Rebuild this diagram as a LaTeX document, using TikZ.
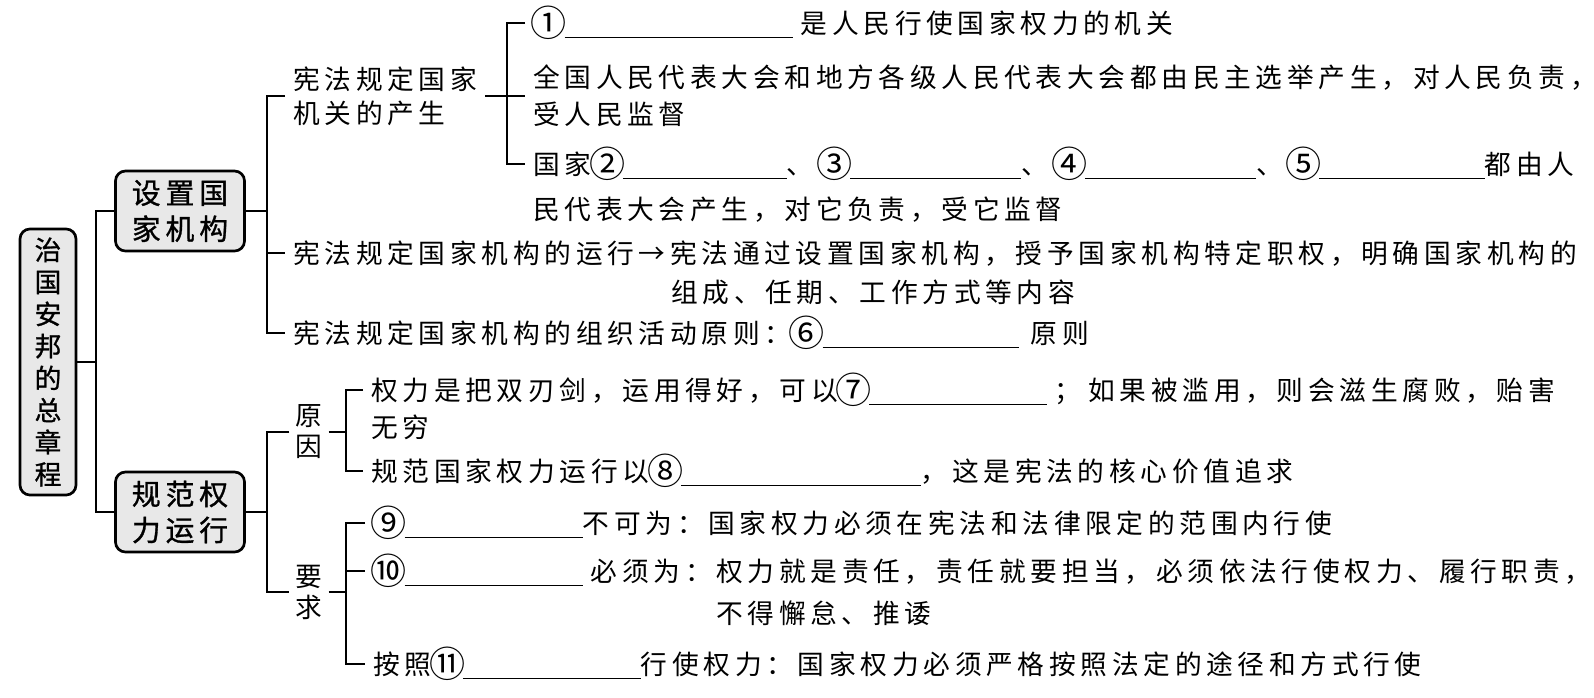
\documentclass[tikz,border=0pt]{standalone}
\usepackage{fontspec}
\newfontfamily\cjk{Noto Sans CJK SC}[LetterSpace=17.6]
\newfontfamily\boxfont{Noto Sans CJK SC}[LetterSpace=17,FakeBold=1]
\newcommand\blank[1]{\rule[-0.2em]{#1}{0.9pt}}
\newcommand\cnum[1]{\makebox[1.176em]{\raisebox{-0.12em}{\scalebox{1.35}{#1}}}}

\begin{document}
\begin{tikzpicture}[x=0.025cm,y=-0.025cm,
  every node/.style={font=\cjk\fontsize{19pt}{24pt}\selectfont},
  link/.style={line width=1.4pt},
  topic/.style={draw,line width=1.9pt,rounded corners=0.25cm,fill=gray!18,align=center,inner sep=0pt,font=\boxfont\fontsize{20.5pt}{25.6pt}\selectfont},
  item/.style={anchor=west,inner xsep=0.2cm,inner ysep=0pt,text height=16.7pt,text depth=2.3pt},
  lines/.style={anchor=west,inner xsep=0.2cm,inner ysep=0pt,align=left},
  pair/.style={align=center,inner xsep=0.15cm,inner ysep=0pt,font=\cjk\fontsize{19pt}{22pt}\selectfont}]
\useasboundingbox (0,0) rectangle (1594,698);

\node[topic,minimum width=1.4cm,minimum height=6.65cm,font=\boxfont\fontsize{19pt}{22.8pt}\selectfont] (root) at (48,362) {治\\国\\安\\邦\\的\\总\\章\\程};
\node[topic,minimum width=3.225cm,minimum height=2cm] (organ) at (180,211) {设置国\\家机构};
\node[topic,minimum width=3.225cm,minimum height=2cm] (power) at (180,512) {规范权\\力运行};

\coordinate (s0) at (96,0);
\coordinate (s1) at (267,0);
\coordinate (s2) at (507,0);
\coordinate (s3) at (346,0);

\node[lines,font=\cjk\fontsize{19pt}{24.2pt}\selectfont] (birth) at (285,96) {宪法规定国家\\机关的产生};
\node[item] (npc) at (525,23) {\cnum{①}\blank{5.7cm}\hspace{0.2cm}是人民行使国家权力的机关};
\node[lines,font=\cjk\fontsize{19pt}{26.3pt}\selectfont] (elect) at (525,96) {全国人民代表大会和地方各级人民代表大会都由民主选举产生，对人民负责，\\受人民监督};
\node[item] (other) at (525,164) {国家\cnum{②}\blank{4.1cm}、\hspace{0.13cm}\cnum{③}\blank{4.28cm}、\hspace{0.13cm}\cnum{④}\blank{4.28cm}、\hspace{0.13cm}\cnum{⑤}\blank{4.13cm}都由人};
\node[item] (other2) at (525,209) {民代表大会产生，对它负责，受它监督};
\node[item] (run) at (285,253) {宪法规定国家机构的运行→宪法通过设置国家机构，授予国家机构特定职权，明确国家机构的};
\node[item] (run2) at (663,292) {组成、任期、工作方式等内容};
\node[item] (rule) at (285,333) {宪法规定国家机构的组织活动原则：\cnum{⑥}\blank{4.9cm}\hspace{0.3cm}原则};

\node[pair] (why) at (309,432) {原\\因};
\node[item] (sword) at (363,390) {权力是把双刃剑，运用得好，可以\cnum{⑦}\blank{4.45cm}\hspace{0.18cm}；\hspace{0.18cm}如果被滥用，则会滋生腐败，贻害};
\node[item] (sword2) at (363,427) {无穷};
\node[item] (core) at (363,471) {规范国家权力运行以\cnum{⑧}\blank{6cm}，这是宪法的核心价值追求};
\node[pair] (need) at (309,592) {要\\求};
\node[item] (nine) at (365,523) {\cnum{⑨}\blank{4.45cm}不可为：国家权力必须在宪法和法律限定的范围内行使};
\node[item] (ten) at (365,571) {\cnum{⑩}\blank{4.45cm}\hspace{0.2cm}必须为：权力就是责任，责任就要担当，必须依法行使权力、履行职责，};
\node[item] (ten2) at (708,613) {不得懈怠、推诿};
\node[item] (eleven) at (365,664) {按照\cnum{⑪}\blank{4.45cm}行使权力：国家权力必须严格按照法定的途径和方式行使};

\draw[link] (root.east) -- (root.east -| s0);
\draw[link] (organ.west) -- (organ.west -| s0) -- (power.west -| s0) -- (power.west);
\draw[link] (organ.east) -- (organ.east -| s1);
\draw[link] (birth.west) -- (birth.west -| s1) -- (rule.west -| s1) -- (rule.west);
\draw[link] (run.west -| s1) -- (run.west);
\draw[link] (power.east) -- (power.east -| s1);
\draw[link] (why.west) -- (why.west -| s1) -- (need.west -| s1) -- (need.west);
\draw[link] (birth.east) -- (birth.east -| s2);
\draw[link] (npc.west) -- (npc.west -| s2) -- (other.west -| s2) -- (other.west);
\draw[link] (elect.west -| s2) -- (elect.west);
\draw[link] (why.east) -- (why.east -| s3);
\draw[link] (sword.west) -- (sword.west -| s3) -- (core.west -| s3) -- (core.west);
\draw[link] (need.east) -- (need.east -| s3);
\draw[link] (nine.west) -- (nine.west -| s3) -- (eleven.west -| s3) -- (eleven.west);
\draw[link] (ten.west -| s3) -- (ten.west);
\end{tikzpicture}
\end{document}
